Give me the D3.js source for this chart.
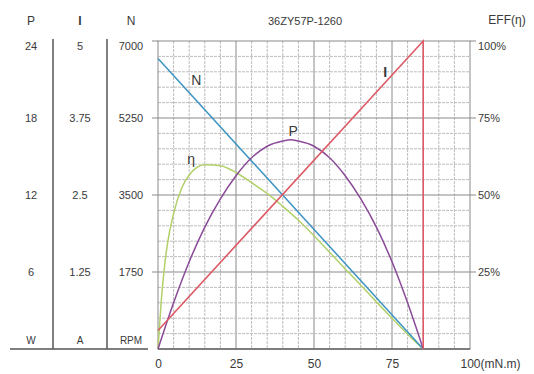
<!DOCTYPE html>
<html>
<head>
<meta charset="utf-8">
<script src="https://cdn.jsdelivr.net/npm/d3@7"></script>
<style>
  body { margin: 0; background: #fff; }
  svg { font-family: "Liberation Sans", Arial, sans-serif; }
  .lbl { fill: #3a3a3a; font-size: 11px; }
</style>
</head>
<body>
<div id="chart"></div>
<script>
// torque (mN.m) sample points
const torque = [0, 5, 10, 15, 20, 25, 30, 35, 40, 42.5, 45, 50, 55, 60, 65, 70, 75, 80, 85];
const powerW = [0, 3.6, 6.8, 9.5, 11.7, 13.5, 14.9, 15.8, 16.2, 16.3, 16.2, 15.8, 14.9, 13.5, 11.7, 9.5, 6.8, 3.6, 0];

const effTorque = [0, 1, 2, 3, 5, 7.5, 10, 15, 20, 25, 30, 35, 40, 45, 50, 55, 60, 65, 70, 75, 80, 85];
const effPct = [0, 15, 26, 34, 44, 52, 56.5, 59.8, 59.5, 57.3, 54, 50.5, 46.3, 41.8, 36.8, 31.4, 26, 20.7, 15.3, 10, 4.8, 0];

const speedTorque = [0, 85];
const speedRpm = [6600, 0];
const currentTorque = [0, 85, 85];
const currentA = [0.3, 5, 0];

const xTicks = [0, 25, 50, 75, 100];
const pTicks = [24, 18, 12, 6];
const iTicks = [5, 3.75, 2.5, 1.25];
const nTicks = [7000, 5250, 3500, 1750];
const effTicks = [100, 75, 50, 25];

const width = 534, height = 374;
const plotLeft = 158, plotRight = 470, plotTop = 41, plotBottom = 349;

const svg = d3.select("#chart").append("svg")
  .attr("width", width).attr("height", height);

const x = d3.scaleLinear().domain([0, 100]).range([plotLeft, plotRight]);
const yN = d3.scaleLinear().domain([0, 7000]).range([plotBottom, plotTop]);
const yP = d3.scaleLinear().domain([0, 24]).range([plotBottom, plotTop]);
const yI = d3.scaleLinear().domain([0, 5]).range([plotBottom, plotTop]);
const yE = d3.scaleLinear().domain([0, 100]).range([plotBottom, plotTop]);

// grid
const grid = svg.append("g");
grid.selectAll("line.v").data(d3.range(5, 100, 5)).join("line")
  .attr("x1", d => x(d)).attr("x2", d => x(d)).attr("y1", plotTop).attr("y2", plotBottom)
  .attr("stroke", d => d % 25 === 0 ? "#8a8a8a" : "#bdbdbd")
  .attr("stroke-dasharray", d => d % 25 === 0 ? null : "3,1");
grid.selectAll("line.h").data(d3.range(350, 7000, 350)).join("line")
  .attr("x1", plotLeft).attr("x2", plotRight).attr("y1", d => yN(d)).attr("y2", d => yN(d))
  .attr("stroke", d => d % 1750 === 0 ? "#8a8a8a" : "#bdbdbd")
  .attr("stroke-dasharray", d => d % 1750 === 0 ? null : "3,1");
grid.append("rect").attr("x", plotLeft).attr("y", plotTop)
  .attr("width", plotRight - plotLeft).attr("height", plotBottom - plotTop)
  .attr("fill", "none").attr("stroke", "#8a8a8a");

// little ticks on the major lines
grid.selectAll("line.tl").data(nTicks).join("line")
  .attr("x1", plotLeft - 6).attr("x2", plotLeft).attr("y1", d => yN(d)).attr("y2", d => yN(d))
  .attr("stroke", "#8a8a8a");
grid.selectAll("line.tr").data(effTicks).join("line")
  .attr("x1", plotRight).attr("x2", plotRight + 6).attr("y1", d => yE(d)).attr("y2", d => yE(d))
  .attr("stroke", "#8a8a8a");

// bottom axis line
svg.append("line").attr("x1", plotLeft).attr("x2", plotRight).attr("y1", plotBottom).attr("y2", plotBottom)
  .attr("stroke", "#666").attr("stroke-width", 1.5);

// left table
const tbl = svg.append("g");
tbl.append("line").attr("x1", 10).attr("x2", 148).attr("y1", plotBottom).attr("y2", plotBottom)
  .attr("stroke", "#555").attr("stroke-width", 1.5);
[53, 107].forEach(cx => {
  tbl.append("line").attr("x1", cx).attr("x2", cx).attr("y1", 39).attr("y2", plotBottom)
    .attr("stroke", "#555").attr("stroke-width", 1.5);
});

const cols = [
  { cx: 31, head: "P", unit: "W", ticks: pTicks, scale: yP },
  { cx: 80, head: "I", unit: "A", ticks: iTicks, scale: yI },
  { cx: 131, head: "N", unit: "RPM", ticks: nTicks, scale: yN }
];
cols.forEach(c => {
  tbl.append("text").attr("class", "lbl").attr("x", c.cx).attr("y", 25)
    .attr("text-anchor", "middle").style("font-size", "12px")
    .style("font-weight", c.head === "I" ? "bold" : null).text(c.head);
  tbl.append("text").attr("class", "lbl").attr("x", c.cx).attr("y", 344)
    .attr("text-anchor", "middle").style("font-size", "10px").text(c.unit);
  tbl.selectAll(null).data(c.ticks).join("text").attr("class", "lbl")
    .attr("x", c.cx).attr("y", (d, i) => c.scale(d) + (i === 0 ? 5 : 0))
    .attr("dy", "0.35em").attr("text-anchor", "middle").text(d => d);
});

// right efficiency labels
svg.selectAll("text.eff").data(effTicks).join("text").attr("class", "lbl")
  .attr("x", plotRight + 8).attr("y", (d, i) => yE(d) + (i === 0 ? 5 : 0))
  .attr("dy", "0.35em").text(d => d + "%");
svg.append("text").attr("class", "lbl").attr("x", 507).attr("y", 24)
  .attr("text-anchor", "middle").style("font-size", "12px").text("EFF(η)");
svg.append("text").attr("class", "lbl").attr("x", 305).attr("y", 25)
  .attr("text-anchor", "middle").style("font-size", "11px").text("36ZY57P-1260");

// x axis labels
const xAxis = d3.axisBottom(x).tickValues(xTicks).tickSize(0)
  .tickFormat(d => d === 100 ? "100(mN.m)" : d);
const gx = svg.append("g").attr("transform", `translate(0,${plotBottom})`).call(xAxis);
gx.select(".domain").remove();
gx.selectAll("text").attr("y", 10).style("font-size", "12px")
  .style("font-family", "'Liberation Sans', Arial, sans-serif").attr("fill", "#3a3a3a")
  .filter(d => d === 100).attr("text-anchor", "start").attr("dx", -10);

// curves
const lineN = d3.line().x(d => x(d[0])).y(d => yN(d[1]));
const lineI = d3.line().x(d => x(d[0])).y(d => yI(d[1]));
const lineP = d3.line().x(d => x(d[0])).y(d => yP(d[1])).curve(d3.curveMonotoneX);
const lineE = d3.line().x(d => x(d[0])).y(d => yE(d[1])).curve(d3.curveMonotoneX);

const curves = svg.append("g").attr("fill", "none");
curves.append("path").attr("d", lineE(d3.zip(effTorque, effPct)))
  .attr("stroke", "#b2d06a").attr("stroke-width", 1.5);
curves.append("path").attr("d", lineN(d3.zip(speedTorque, speedRpm)))
  .attr("stroke", "#3c93c2").attr("stroke-width", 1.5);
curves.append("path").attr("d", lineP(d3.zip(torque, powerW)))
  .attr("stroke", "#8a4a98").attr("stroke-width", 1.5);
curves.append("path").attr("d", lineI(d3.zip(currentTorque, currentA)))
  .attr("stroke", "#dd5a66").attr("stroke-width", 1.6);

// curve names
const names = [
  { t: "N", tx: 12.3, y: yN(6120), bold: false },
  { t: "I", tx: 72.8, y: yI(4.5), bold: true },
  { t: "P", tx: 43.3, y: yP(17), bold: false },
  { t: "η", tx: 10.6, y: yE(61.5), bold: false }
];
svg.selectAll("text.name").data(names).join("text").attr("class", "lbl")
  .attr("x", d => x(d.tx)).attr("y", d => d.y).attr("dy", "0.35em")
  .attr("text-anchor", "middle").style("font-size", "14px")
  .style("font-weight", d => d.bold ? "bold" : null).text(d => d.t);
</script>
</body>
</html>
